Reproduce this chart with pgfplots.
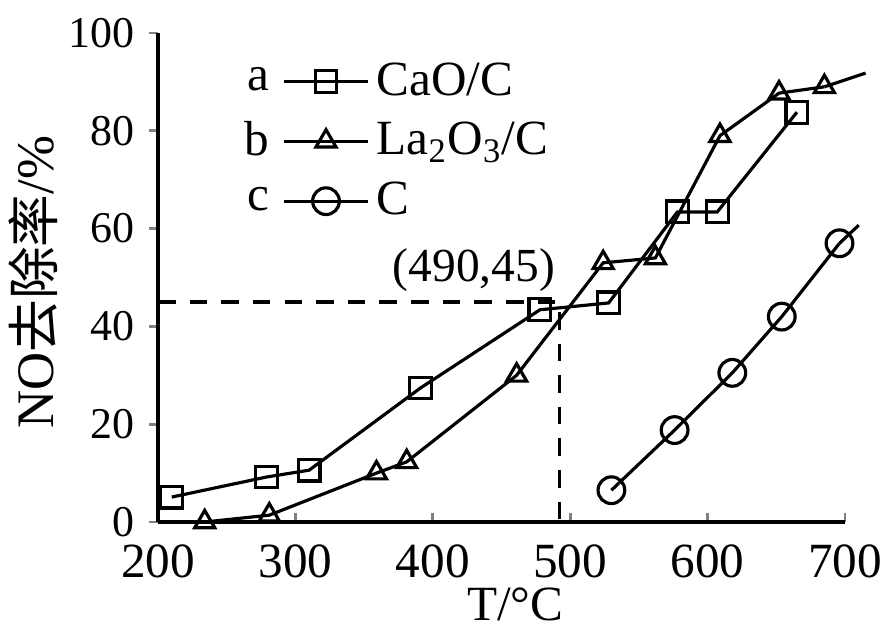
\documentclass[border=0pt]{standalone}
\usepackage{fontspec}
\setmainfont{Liberation Serif}
\newfontfamily\cjk{Noto Sans CJK SC}
\usepackage{pgfplots}
\pgfplotsset{compat=1.18}
\pgfplotsset{
  lettered/.style={legend image code/.code={
    \node[anchor=east, inner sep=0pt] at (-0.13cm,0cm) {#1};
    \draw[mark repeat=2,mark phase=2,##1] plot coordinates {(0cm,0cm) (0.42cm,0cm) (0.84cm,0cm)};}},
}

\begin{document}
\begin{tikzpicture}
\begin{axis}[
  name=ax,
  scale only axis,
  width=6.87cm, height=4.89cm,
  xmin=200, xmax=700, ymin=0, ymax=100,
  axis x line=bottom, axis y line=left,
  axis line style={line width=0.9pt, -},
  xtick={200,300,...,700}, ytick={0,20,...,100},
  x tick style={line width=0.8pt}, y tick style={line width=0.8pt},
  ytick align=outside, xtick align=inside,
  major tick length=0.09cm,
  yticklabel style={font=\fontsize{12.5}{14}\selectfont, inner sep=1pt, xshift=-0.1cm},
  xticklabel style={font=\fontsize{14}{16}\selectfont, anchor=center, inner sep=0.5pt, yshift=-0.39cm},
  /pgf/number format/assume math mode=true,
  /pgf/number format/1000 sep={},
  xlabel={T/°C},
  ylabel={NO{\cjk 去除率}/\%},
  xlabel style={font=\fontsize{14}{16}\selectfont,
    at={(axis description cs:0.52,-0.168)}, anchor=center},
  ylabel style={font=\fontsize{15}{17}\selectfont,
    at={(axis description cs:-0.182,0.49)}, anchor=center},
  clip=false,
  legend style={draw=none, fill=none, font=\fontsize{14}{16}\selectfont,
    at={(0.11,0.97)}, anchor=north west, row sep=0.08cm,
    /tikz/every even column/.append style={column sep=0.1cm}},
  legend cell align=left,
]
\addplot[black, line width=0.9pt, mark=square, mark size=3.1pt,
  mark options={fill=white, solid}, lettered=a]
  coordinates {(210,5.1) (279,9.2) (310,10.6) (391,27.4) (478,43.4) (528,44.8) (578,63.4) (607,63.4) (665,83.8)};
\addlegendentry{CaO/C}
\addplot[black, line width=0.9pt, mark=triangle, mark size=3.3pt,
  mark options={fill=white, solid}, lettered=b]
  coordinates {(234,0) (281,1.4) (359,10) (381,12.3) (461,30) (524,53) (562,54) (609,79) (652,87.7) (685,89)};
\addlegendentry{La\textsubscript{2}O\textsubscript{3}/C}
\addplot[black, line width=0.9pt, mark=o, mark size=3.8pt,
  mark options={fill=white, solid}, lettered=c]
  coordinates {(530,6.5) (576,18.8) (618,30.5) (654,42) (696,57)};
\addlegendentry{C}
% tails running past the axis end
\addplot[black, line width=0.9pt, forget plot] coordinates {(685,89) (715,91.8)};
\addplot[black, line width=0.9pt, forget plot] coordinates {(696,57) (710,60.7)};
% reading lines
\addplot[black, line width=0.9pt, dashed, dash pattern=on 5pt off 4pt, forget plot]
  coordinates {(200,45) (492,45) (492,0)};
\node[anchor=east, inner sep=1pt, font=\fontsize{13.5}{15}\selectfont] at (axis cs:492,51.5) {(490,45)};
\end{axis}
\pgfresetboundingbox
\path ([xshift=-1.58cm,yshift=-1.1cm]ax.south west) rectangle ([xshift=0.36cm,yshift=0.33cm]ax.north east);
\end{tikzpicture}
\end{document}
